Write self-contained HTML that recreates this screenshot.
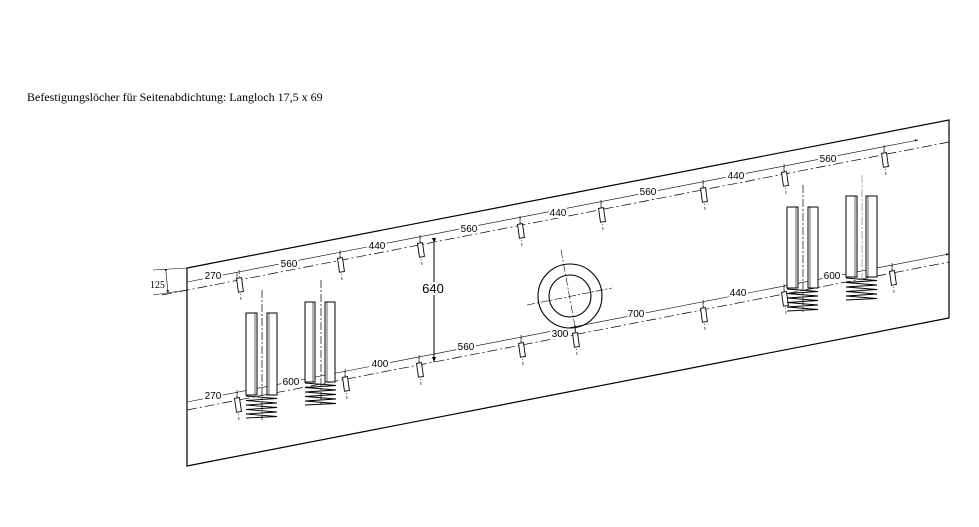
<!DOCTYPE html>
<html><head><meta charset="utf-8"><style>
html,body{margin:0;padding:0;background:#fff;width:979px;height:527px;overflow:hidden}
svg{display:block}
text{font-family:"Liberation Sans",sans-serif;font-size:10px;fill:#000}
.lb{paint-order:stroke;stroke:#fff;stroke-width:4px}
</style></head><body>
<svg width="979" height="527" viewBox="0 0 979 527" xmlns="http://www.w3.org/2000/svg">
<defs>
<marker id="a" markerWidth="6" markerHeight="6" refX="5" refY="3" orient="auto"><path d="M0,1 L5,3 L0,5z" fill="#000"/></marker>
<g id="slot"><line x1="0" y1="-8" x2="2" y2="22" stroke="#000" stroke-width="0.6" stroke-dasharray="4,2,1,2"/><rect x="-2.5" y="0" width="5" height="14" fill="#fff" stroke="#000" stroke-width="0.9" transform="rotate(-8)"/></g>
<g id="spring" fill="none" stroke="#000" stroke-width="0.9"><path d="M0,0 L31,2.5 L0,4.5 L31,7 L0,9 L31,11.5 L0,13.5 L31,16 L0,18 L31,20.5 L0,22"/></g>
</defs>
<text x="27" y="101" style="font-family:'Liberation Serif',serif;font-size:12px">Befestigungslöcher für Seitenabdichtung: Langloch 17,5 x 69</text>
<path d="M187,268 L949,120 L949,318 L187,466 Z" fill="none" stroke="#000" stroke-width="1.2"/>
<g stroke="#000" stroke-width="0.7" stroke-dasharray="10,3,2,3" fill="none">
<line x1="162" y1="295" x2="949" y2="142"/>
<line x1="187" y1="410" x2="949" y2="262"/>
</g>
<g stroke="#000" stroke-width="0.6" fill="none">
<line x1="187" y1="282" x2="918" y2="140" marker-end="url(#a)"/>
<line x1="187" y1="402" x2="949" y2="254" marker-end="url(#a)"/>
<line x1="153" y1="270" x2="187" y2="268"/>
<line x1="153" y1="295" x2="187" y2="290"/>
<line x1="166" y1="272" x2="168" y2="293" marker-start="url(#a)" marker-end="url(#a)"/>
<line x1="434" y1="243" x2="434" y2="362" stroke-width="1" marker-start="url(#a)" marker-end="url(#a)"/>
</g>
<g stroke="#000" stroke-width="0.6" fill="none">
<path d="M237,272v8 M340,252v8 M420,237v8 M520,217v8 M601,202v8 M703,182v8 M784,166v8 M884,147v8"/>
<path d="M237,392v8 M345,371v8 M419,357v8 M521,337v8 M575,327v8 M703,302v8 M784,286v8 M892,265v8"/>
</g>
<use href="#slot" x="239" y="278"/><use href="#slot" x="340" y="258"/><use href="#slot" x="420" y="243"/><use href="#slot" x="520" y="224"/>
<use href="#slot" x="601" y="208"/><use href="#slot" x="703" y="188"/><use href="#slot" x="784" y="172"/><use href="#slot" x="884" y="153"/>
<use href="#slot" x="237" y="398"/><use href="#slot" x="345" y="377"/><use href="#slot" x="419" y="363"/><use href="#slot" x="521" y="343"/>
<use href="#slot" x="575" y="333"/><use href="#slot" x="703" y="308"/><use href="#slot" x="784" y="292"/><use href="#slot" x="892" y="271"/>
<g class="lb">
<text x="213" y="279" text-anchor="middle">270</text>
<text x="289" y="267" text-anchor="middle">560</text>
<text x="377" y="249" text-anchor="middle">440</text>
<text x="469" y="232" text-anchor="middle">560</text>
<text x="558" y="216" text-anchor="middle">440</text>
<text x="648" y="195" text-anchor="middle">560</text>
<text x="736" y="179" text-anchor="middle">440</text>
<text x="828" y="162" text-anchor="middle">560</text>
<text x="213" y="399" text-anchor="middle">270</text>
<text x="291" y="385" text-anchor="middle">600</text>
<text x="380" y="367" text-anchor="middle">400</text>
<text x="466" y="350" text-anchor="middle">560</text>
<text x="560" y="337" text-anchor="middle">300</text>
<text x="636" y="317" text-anchor="middle">700</text>
<text x="738" y="296" text-anchor="middle">440</text>
<text x="832" y="279" text-anchor="middle">600</text>
</g>
<text x="150" y="288" style="font-family:'Liberation Serif',serif;font-size:10px">125</text>
<text x="433" y="293" text-anchor="middle" class="lb" style="font-size:13px">640</text>
<circle cx="570" cy="296" r="32" fill="none" stroke="#000" stroke-width="1.1"/>
<circle cx="570" cy="296" r="21" fill="none" stroke="#000" stroke-width="1.1"/>
<g stroke="#000" stroke-width="0.6" stroke-dasharray="8,2,2,2">
<line x1="527" y1="305" x2="612" y2="288"/>
<line x1="561" y1="250" x2="576" y2="332"/>
</g>
<g fill="#fff" stroke="#000" stroke-width="1">
<rect x="246" y="313" width="11" height="82"/><rect x="267" y="313" width="10" height="82"/>
<rect x="305" y="302" width="10" height="80"/><rect x="325" y="302" width="10" height="80"/>
<rect x="787" y="207" width="11" height="81"/><rect x="808" y="207" width="10" height="81"/>
<rect x="846" y="196" width="11" height="81"/><rect x="866" y="196" width="11" height="81"/>
</g>
<g stroke="#000" stroke-width="0.6">
<line x1="255" y1="313" x2="255" y2="395"/><line x1="269" y1="313" x2="269" y2="395"/>
<line x1="313" y1="302" x2="313" y2="382"/><line x1="327" y1="302" x2="327" y2="382"/>
<line x1="796" y1="207" x2="796" y2="288"/><line x1="810" y1="207" x2="810" y2="288"/>
<line x1="855" y1="196" x2="855" y2="277"/><line x1="868" y1="196" x2="868" y2="277"/>
</g>
<use href="#spring" x="246" y="396"/><use href="#spring" x="305" y="383"/><use href="#spring" x="787" y="289"/><use href="#spring" x="846" y="278"/>
<g stroke="#000" stroke-width="0.7" stroke-dasharray="8,2,2,2">
<line x1="262" y1="290" x2="262" y2="420"/><line x1="321" y1="280" x2="321" y2="406"/>
<line x1="803" y1="185" x2="803" y2="312"/><line x1="862" y1="175" x2="862" y2="300" stroke="#888"/>
</g>
</svg>
</body></html>
